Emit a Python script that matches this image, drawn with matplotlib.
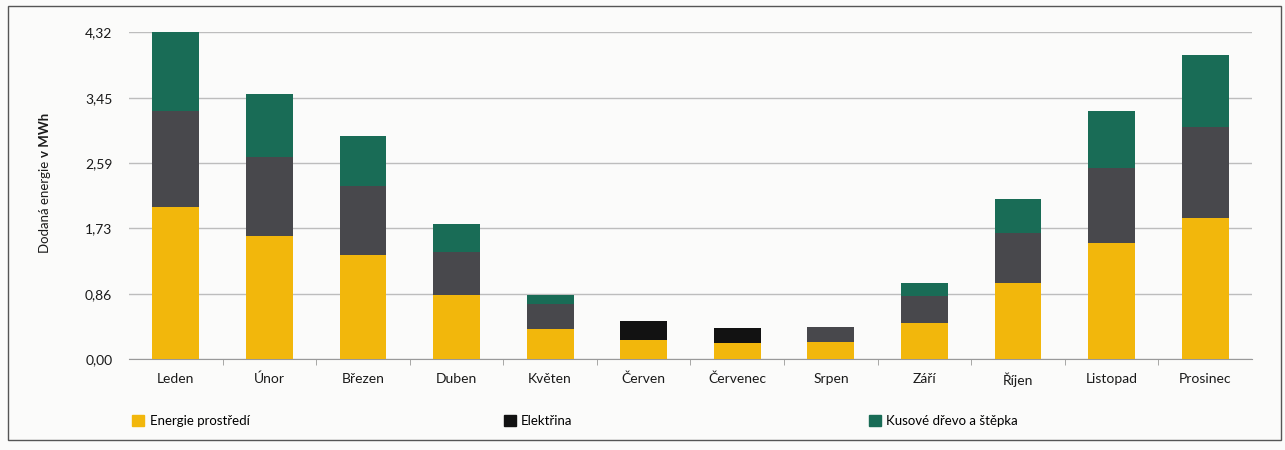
import matplotlib.pyplot as plt
import matplotlib.patches as mpatches
import numpy as np

## data (MWh)
mesice = ['Leden', 'Únor', 'Březen', 'Duben', 'Květen', 'Červen',
          'Červenec', 'Srpen', 'Září', 'Říjen', 'Listopad', 'Prosinec']
energie_prostredi = [2.01, 1.63, 1.37, 0.84, 0.40, 0.25, 0.21, 0.22, 0.48, 1.00, 1.53, 1.86]
elektrina = [1.27, 1.04, 0.91, 0.57, 0.33, 0.25, 0.20, 0.20, 0.35, 0.66, 0.99, 1.20]
drevo = [1.04, 0.83, 0.66, 0.37, 0.12, 0.0, 0.0, 0.0, 0.17, 0.46, 0.75, 0.95]
yticks = [0.00, 0.86, 1.73, 2.59, 3.45, 4.32]

plt.rcParams['font.family'] = ['Lato', 'DejaVu Sans']

c_yellow = '#f2b70c'
c_grey = '#48484c'
c_black = '#121212'
c_green = '#196c56'
# middle segment prints black in the summer months, grey otherwise
c_elek = [c_grey, c_grey, c_grey, c_grey, c_grey, c_black, c_black, c_grey,
          c_grey, c_grey, c_grey, c_grey]

fig = plt.figure(figsize=(12.85, 4.5), dpi=100, facecolor='#fbfbfa')
ax = fig.add_axes([0.1004, 0.2022, 0.8739, 0.7268])
ax.set_facecolor('none')

x = np.arange(len(mesice))
w = 0.5
ep = np.array(energie_prostredi)
el = np.array(elektrina)
ax.bar(x, ep, w, color=c_yellow, zorder=3)
ax.bar(x, el, w, bottom=ep, color=c_elek, zorder=3)
ax.bar(x, drevo, w, bottom=ep + el, color=c_green, zorder=3)

ax.set_xlim(-0.5, 11.5)
ax.set_ylim(0, 4.32)
ax.set_yticks(yticks)
ax.set_yticklabels([('%.2f' % v).replace('.', ',') for v in yticks])
ax.set_xticks(x)
ax.set_xticklabels(mesice)
ax.set_xticks(np.arange(0.5, 11, 1), minor=True)
ax.tick_params(axis='x', which='major', length=0, pad=10, labelsize=10, colors='#1a1a1a')
ax.tick_params(axis='x', which='minor', length=4, color='#999999')
ax.tick_params(axis='y', length=0, pad=12, labelsize=10, colors='#1a1a1a')
ax.grid(axis='y', color='#bdbdbd', lw=1, zorder=0)
for s in ['top', 'right', 'left']:
    ax.spines[s].set_visible(False)
ax.spines['bottom'].set_color('#999999')

## popisek osy y, "v MWh" tucne
fig.text(0.035, 1 - 157 / 450, 'Dodaná energie ', rotation=90, ha='center', va='top',
         fontsize=9.5, color='#1a1a1a')
fig.text(0.035, 1 - 157 / 450, 'v MWh', rotation=90, ha='center', va='bottom',
         fontsize=9.5, fontweight='bold', color='#1a1a1a')

## legenda - tri samostatne polozky
polozky = [(c_yellow, 'Energie prostředí', 0.099),
           (c_black, 'Elektřina', 0.388),
           (c_green, 'Kusové dřevo a štěpka', 0.672)]
for barva, text, xpos in polozky:
    lg = fig.legend(handles=[mpatches.Patch(color=barva, label=text)],
                    loc='center left', bbox_to_anchor=(xpos, 1 - 421 / 450),
                    frameon=False, fontsize=9.5, handlelength=0.9, handleheight=0.9,
                    handletextpad=0.4, borderaxespad=0)

## ramecek kolem obrazku
fig.patches.append(mpatches.Rectangle((0.006, 0.022), 0.991, 0.965, transform=fig.transFigure,
                                      fill=False, edgecolor='#555555', lw=1))

fig.savefig('out.png', dpi=100, facecolor=fig.get_facecolor())
